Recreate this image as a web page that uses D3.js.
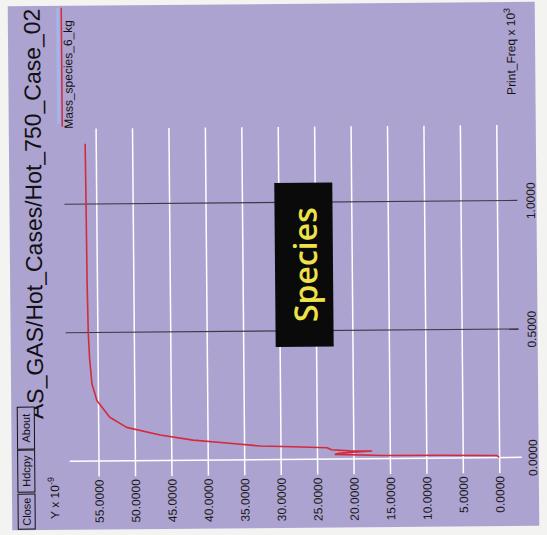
<!DOCTYPE html>
<html><head><meta charset="utf-8">
<script src="https://cdn.jsdelivr.net/npm/d3@7"></script>
<style>html,body{margin:0;padding:0;background:#f3f3f1;} svg{display:block}</style>
</head><body><svg id="c" width="547" height="535"></svg>
<script>
// ---- data ----
const freq = [0, 0.008, 0.011, 0.012, 0.018, 0.022, 0.030, 0.031, 0.036, 0.044, 0.049, 0.053, 0.066, 0.078, 0.099, 0.130, 0.170, 0.236, 0.30, 0.40, 0.50, 0.70, 1.00, 1.235];
const mass = [0, 0.3, 8, 16, 22.5, 22, 17.5, 20.5, 23, 23.6, 28.3, 32.8, 37.4, 42.0, 46.5, 51.1, 53.4, 55.15, 55.8, 56.1, 56.25, 56.35, 56.4, 56.45];
const massTicks = [0, 5, 10, 15, 20, 25, 30, 35, 40, 45, 50, 55];
const freqTicks = [0, 0.5, 1.0];
const title = "AS_GAS/Hot_Cases/Hot_750_Case_02";
const seriesName = "Mass_species_6_kg";
const xAxisName = "Print_Freq x 10";
const xAxisExp = "3";
const yAxisName = "Y x 10";
const yAxisExp = "-9";
const buttons = ["Close", "Hdcpy", "About"];
const overlayText = "Species";

const pts = freq.map((f, i) => ({f: f, m: mass[i]}));
const purple = "#ada3d0";
const font = "'Liberation Sans', Arial, sans-serif";

const svg = d3.select("#c");
const g = svg.append("g").attr("transform", "rotate(-0.5,273,267)");

g.append("rect").attr("x", 10).attr("y", 4).attr("width", 527).attr("height", 524).attr("fill", purple);

const vx = d3.scaleLinear().domain([0, 55]).range([497.5, 96.8]);
const fy = d3.scaleLinear().domain([0, 1]).range([459.5, 202.5]);

// mass axis (horizontal on screen) with white grid lines
const ax = d3.axisBottom(vx).tickValues(massTicks).tickSize(-(475 - 127)).tickSizeOuter(0).tickFormat(d3.format(".4f"));
const axG = g.append("g").attr("transform", "translate(0,475)").call(ax);
axG.select(".domain").remove();
axG.selectAll(".tick line").attr("stroke", "#ffffff").attr("stroke-width", 1.5);
axG.selectAll(".tick text")
  .attr("transform", "rotate(-90)").attr("x", -3).attr("y", 0).attr("dy", "0.36em")
  .attr("text-anchor", "end").attr("fill", "#1a1a1a")
  .style("font-family", font).style("font-size", "12px");

// frequency lines
freqTicks.forEach(t => {
  g.append("line")
    .attr("x1", t === 0 ? 68 : 65).attr("x2", t === 0 ? 520 : 518)
    .attr("y1", fy(t)).attr("y2", fy(t))
    .attr("stroke", t === 0 ? "#ffffff" : "#3b3b48")
    .attr("stroke-width", t === 0 ? 1.5 : 1.1);
});
const fa = d3.axisRight(fy).tickValues(freqTicks).tickSize(0).tickFormat(d3.format(".4f"));
const faG = g.append("g").attr("transform", "translate(531,0)").call(fa);
faG.select(".domain").remove();
faG.selectAll(".tick text")
  .attr("transform", "rotate(-90)").attr("x", 0).attr("y", 0).attr("dy", "0.36em")
  .attr("text-anchor", "middle").attr("fill", "#1a1a1a")
  .style("font-family", font).style("font-size", "12px");

// curve
const line = d3.line().x(d => vx(d.m)).y(d => fy(d.f));
g.append("path").datum(pts).attr("d", line).attr("fill", "none")
  .attr("stroke", "#d32a3c").attr("stroke-width", 1.6).attr("stroke-linejoin", "round");

// legend
g.append("line").attr("x1", 60).attr("x2", 60).attr("y1", 6).attr("y2", 122)
  .attr("stroke", "#a3b6ea").attr("stroke-width", 3);
g.append("line").attr("x1", 63.5).attr("x2", 63.5).attr("y1", 6).attr("y2", 125)
  .attr("stroke", "#d32a3c").attr("stroke-width", 1.5);
g.append("text").attr("transform", "translate(74,127) rotate(-90)")
  .attr("text-anchor", "start").attr("fill", "#111")
  .style("font-family", font).style("font-size", "12px").text(seriesName);

// axis names
const xt = g.append("text").attr("transform", "translate(517,97) rotate(-90)")
  .attr("fill", "#111").style("font-family", font).style("font-size", "12px");
xt.append("tspan").text(xAxisName);
xt.append("tspan").attr("dy", -5).style("font-size", "9px").text(xAxisExp);

const yt = g.append("text").attr("transform", "translate(57,517) rotate(-90)")
  .attr("fill", "#111").style("font-family", font).style("font-size", "12px");
yt.append("tspan").text(yAxisName);
yt.append("tspan").attr("dy", -5).style("font-size", "9px").text(yAxisExp);

// title
g.append("text").attr("transform", "translate(42,417) rotate(-90)")
  .attr("fill", "#111").style("font-family", font).style("font-size", "23px").text(title);

// buttons
const btnBox = [[492, 527], [448, 490], [405, 447]];
buttons.forEach((b, i) => {
  const [y0, y1] = btnBox[i];
  g.append("rect").attr("x", 16).attr("y", y0).attr("width", 17).attr("height", y1 - y0)
    .attr("fill", purple).attr("stroke", "#111").attr("stroke-width", 1);
  g.append("text").attr("transform", `translate(24.5,${(y0 + y1) / 2}) rotate(-90)`)
    .attr("text-anchor", "middle").attr("dy", "0.36em").attr("fill", "#111")
    .style("font-family", font).style("font-size", "11px").text(b);
});

// overlay label
g.append("rect").attr("x", 275).attr("y", 183).attr("width", 58).attr("height", 164).attr("fill", "#0a0a0a");
g.append("text").attr("transform", "translate(317,265) rotate(-90)")
  .attr("text-anchor", "middle").attr("fill", "#eee24a")
  .style("font-family", "'Open Sans','Noto Sans',sans-serif").style("font-size", "32px").style("font-weight", "600")
  .text(overlayText);
</script>
</body></html>
